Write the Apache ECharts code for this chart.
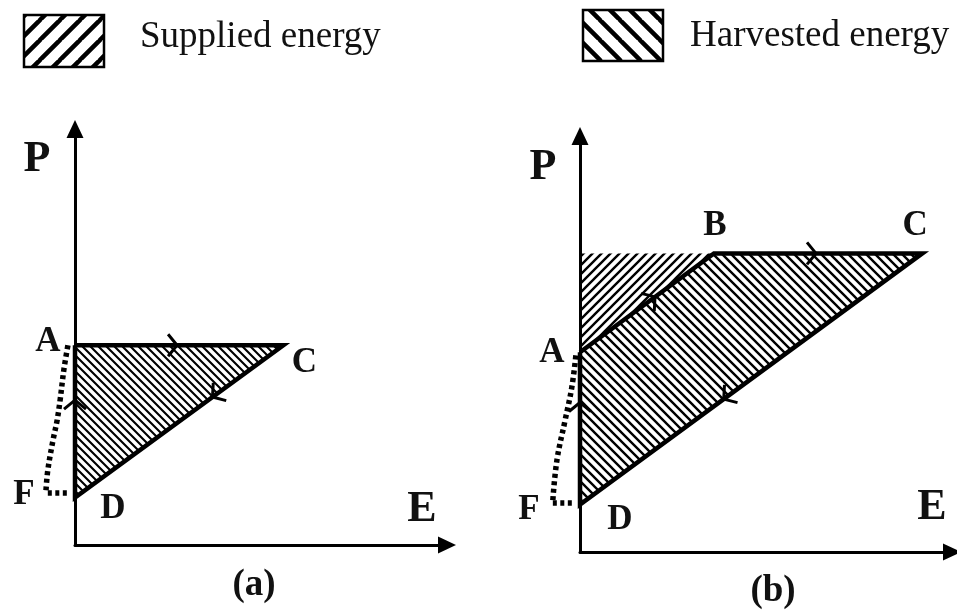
<!DOCTYPE html>
<html>
<head>
<meta charset="utf-8">
<title>Energy cycle in the E–P plane</title>
<script src="https://cdn.jsdelivr.net/npm/echarts@6/dist/echarts.min.js"></script>
<style>
  html, body { margin: 0; padding: 0; background: #fff; }
  #chart { width: 957px; height: 610px; }
</style>
</head>
<body>
<div id="chart"></div>
<script>
// ---------- data (E on x, P on y, arbitrary units) ----------
// cycle (a): A -> C -> D -> (F) -> A
const cycleANames = ['A', 'C', 'D'];
const cycleAPoints = [[0, 4.85], [5.6, 4.85], [0, 1.15]];
// dotted return path of (a): D -> F, then F -> A
const returnAFlat = [[-0.22, 1.26], [-0.81, 1.26]];
const returnACurve = [[-0.78, 1.33], [-0.73, 1.82], [-0.59, 2.55], [-0.48, 3.03], [-0.40, 3.52], [-0.30, 4.25], [-0.19, 4.85]];

// cycle (b): A -> B -> C -> D -> (F) -> A
const cycleBNames = ['A', 'B', 'C', 'D'];
const cycleBPoints = [[0, 4.85], [3.6, 7.25], [9.2, 7.25], [0, 1.15]];
// energy supplied in (b): between the P axis, the level of B and segment A-B
const suppliedBPoints = [[0, 7.25], [3.6, 7.25], [0, 4.85]];
// dotted return path of (b)
const returnBFlat = [[-0.22, 1.19], [-0.73, 1.19]];
const returnBCurve = [[-0.73, 1.26], [-0.62, 2.23], [-0.40, 3.20], [-0.22, 4.00], [-0.11, 4.78]];

// direction marks: [from, to, fraction along the edge]
const arrowsA = [['A', 'C', 0.49], ['C', 'D', 0.34], ['D', 'A', 0.64]];
const arrowsB = [['A', 'B', 0.56], ['B', 'C', 0.49], ['C', 'D', 0.58], ['D', 'A', 0.67]];

// labelled corner of the dotted path
const pointF_A = [-0.81, 1.26];
const pointF_B = [-0.73, 1.19];

const legendNames = ['Supplied energy', 'Harvested energy'];
const panelTags = ['(a)', '(b)'];
const axisNames = ['E', 'P'];

// ---------- styling ----------
const SERIF = '"Liberation Serif", "Times New Roman", serif';
const INK = '#000';
const TEXT = '#111';

function hatch(size, width, dir) {
  const c = document.createElement('canvas');
  c.width = c.height = size;
  const g = c.getContext('2d');
  g.strokeStyle = INK;
  g.lineWidth = width;
  g.beginPath();
  for (const o of [-size, 0, size]) {
    if (dir === '/') { g.moveTo(o - 1, size + 1); g.lineTo(o + size + 1, -1); }
    else { g.moveTo(o - 1, -1); g.lineTo(o + size + 1, size + 1); }
  }
  g.stroke();
  return { image: c, repeat: 'repeat' };
}

const fineHarvestA = hatch(8, 2.1, '\\');
const fineHarvestB = hatch(9, 2.4, '\\');
const fineSupplied = hatch(9, 2.4, '/');
const boldSupplied = hatch(20, 4.5, '/');
const boldHarvest = hatch(20, 4.5, '\\');

const labelOffsets = {
  a: { A: [-27, -3], C: [21, 18], D: [38, 11], F: [-21, 2] },
  b: { A: [-28, 1], B: [1, -27], C: [-7, -27], D: [40, 15], F: [-24, 7] }
};

function axisPair(idx) {
  const line = {
    show: true, onZero: false,
    symbol: ['none', 'triangle'], symbolSize: [17, 18],
    lineStyle: { color: INK, width: 3 }
  };
  const common = {
    gridIndex: idx, type: 'value', min: 0,
    axisLine: line, axisTick: { show: false }, axisLabel: { show: false },
    splitLine: { show: false }
  };
  return {
    x: Object.assign({}, common, { max: 10 }),
    y: Object.assign({}, common, { max: 10.1 })
  };
}
const axA = axisPair(0), axB = axisPair(1);

function customBase(idx, z, count) {
  const data = [];
  for (let i = 0; i < count; i++) data.push([0, 0]);
  return { type: 'custom', xAxisIndex: idx, yAxisIndex: idx, clip: false, silent: true, z: z, data: data };
}

function areaSeries(idx, pts, fill) {
  return Object.assign(customBase(idx, 1, 1), {
    renderItem: (params, api) => ({
      type: 'polygon',
      shape: { points: pts.map(p => api.coord(p)) },
      style: { fill: fill, stroke: null }
    })
  });
}

function outlineSeries(idx, pts) {
  return {
    type: 'line', xAxisIndex: idx, yAxisIndex: idx, clip: false, silent: true, z: 3,
    symbol: 'none', data: pts,
    lineStyle: { color: INK, width: 4.5, join: 'miter' }
  };
}

function dottedSeries(idx, pts, smooth) {
  return Object.assign(customBase(idx, 3, 1), {
    renderItem: (params, api) => ({
      type: 'polyline',
      shape: { points: pts.map(p => api.coord(p)), smooth: smooth ? 0.4 : 0 },
      style: { stroke: INK, lineWidth: 5.5, lineDash: [4, 3.5], lineCap: 'butt', fill: null }
    })
  });
}

function chevronSeries(idx, names, pts, marks) {
  const lookup = {};
  names.forEach((n, i) => { lookup[n] = pts[i]; });
  return Object.assign(customBase(idx, 4, marks.length), {
    renderItem: (params, api) => {
      const m = marks[params.dataIndex];
      const p0 = api.coord(lookup[m[0]]);
      const p1 = api.coord(lookup[m[1]]);
      const x = p0[0] + (p1[0] - p0[0]) * m[2];
      const y = p0[1] + (p1[1] - p0[1]) * m[2];
      const ang = Math.atan2(p1[1] - p0[1], p1[0] - p0[0]);
      return {
        type: 'polyline', x: x, y: y, rotation: -ang,
        shape: { points: [[-9, -11], [0, 0], [-9, 11]] },
        style: { stroke: INK, lineWidth: 3, fill: null }
      };
    }
  });
}

function labelSeries(idx, names, pts, offsets) {
  return Object.assign(customBase(idx, 5, names.length), {
    renderItem: (params, api) => {
      const n = names[params.dataIndex];
      const p = api.coord(pts[params.dataIndex]);
      const off = offsets[n];
      return {
        type: 'text', x: p[0] + off[0], y: p[1] + off[1],
        style: {
          text: n, fill: TEXT, font: 'bold 35px ' + SERIF,
          align: 'center', verticalAlign: 'middle'
        }
      };
    }
  });
}

function txt(x, y, text, size, bold, align) {
  return {
    type: 'text', x: x, y: y, silent: true,
    style: {
      text: text, fill: TEXT,
      font: (bold ? 'bold ' : '') + size + 'px ' + SERIF,
      align: align || 'center', verticalAlign: 'middle'
    }
  };
}

const option = {
  backgroundColor: '#fff',
  animation: false,
  grid: [
    { left: 75, top: 129, width: 372, height: 416 },
    { left: 580, top: 136, width: 372, height: 416 }
  ],
  xAxis: [axA.x, axB.x],
  yAxis: [axA.y, axB.y],
  graphic: [
    // legend
    { type: 'rect', shape: { x: 24, y: 15, width: 80, height: 52 },
      style: { fill: boldSupplied, stroke: INK, lineWidth: 2.5 } },
    txt(140, 37, legendNames[0], 37, false, 'left'),
    { type: 'rect', shape: { x: 583, y: 10, width: 80, height: 51 },
      style: { fill: boldHarvest, stroke: INK, lineWidth: 2.5 } },
    txt(690, 36, legendNames[1], 37, false, 'left'),
    // axis names and panel tags
    txt(37, 160, axisNames[1], 44, true),
    txt(422, 510, axisNames[0], 44, true),
    txt(543, 168, axisNames[1], 44, true),
    txt(932, 508, axisNames[0], 44, true),
    txt(254, 585, panelTags[0], 37, true),
    txt(773, 591, panelTags[1], 37, true)
  ],
  series: [
    // panel (a)
    areaSeries(0, cycleAPoints, fineHarvestA),
    outlineSeries(0, cycleAPoints.concat([cycleAPoints[0]])),
    dottedSeries(0, returnAFlat, false),
    dottedSeries(0, returnACurve, true),
    chevronSeries(0, cycleANames, cycleAPoints, arrowsA),
    labelSeries(0, cycleANames.concat(['F']), cycleAPoints.concat([pointF_A]), labelOffsets.a),
    // panel (b)
    areaSeries(1, suppliedBPoints, fineSupplied),
    areaSeries(1, cycleBPoints, fineHarvestB),
    outlineSeries(1, cycleBPoints.concat([cycleBPoints[0]])),
    dottedSeries(1, returnBFlat, false),
    dottedSeries(1, returnBCurve, true),
    chevronSeries(1, cycleBNames, cycleBPoints, arrowsB),
    labelSeries(1, cycleBNames.concat(['F']), cycleBPoints.concat([pointF_B]), labelOffsets.b)
  ]
};

const chart = echarts.init(document.getElementById('chart'), null, { renderer: 'canvas' });
chart.setOption(option);
</script>
</body>
</html>
